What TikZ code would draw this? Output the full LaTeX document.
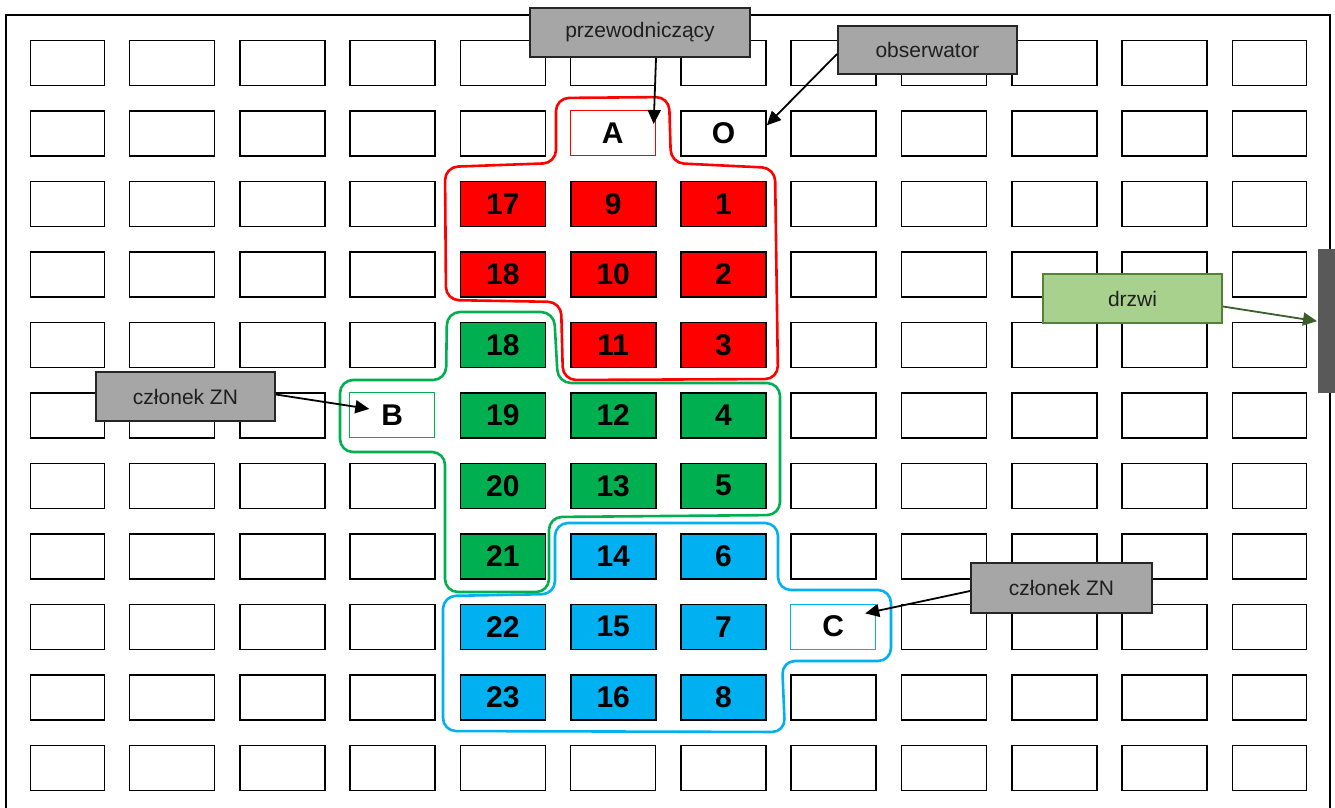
\documentclass[tikz,border=0pt]{standalone}
\usepackage{fontspec}
\setmainfont{Liberation Sans}
\usetikzlibrary{arrows.meta}
\definecolor{cred}{HTML}{FF0000}
\definecolor{cgreen}{HTML}{00B050}
\definecolor{cblue}{HTML}{00B0F0}
\definecolor{lblgray}{HTML}{A6A6A6}
\definecolor{lblline}{HTML}{262626}
\definecolor{drzwifill}{HTML}{A9D18E}
\definecolor{drzwiline}{HTML}{548235}
\definecolor{drzwiarrow}{HTML}{3B5E2B}
\definecolor{doorgray}{HTML}{595959}
\begin{document}
\begin{tikzpicture}[x=1pt,y=-1pt,
  seat/.style={draw=black,line width=1.6pt,minimum width=85pt,minimum height=45pt,inner sep=0pt,anchor=north west,font=\bfseries\fontsize{30}{30}\selectfont},
  mark seat/.style={draw=#1,line width=0.8pt,minimum width=85pt,minimum height=45pt,inner sep=0pt,anchor=north west,font=\bfseries\fontsize{30}{30}\selectfont},
  lbl/.style={draw=lblline,line width=2pt,fill=lblgray,minimum width=179pt,minimum height=48pt,inner sep=0pt,anchor=north west,text=black!88,font=\fontsize{21}{21}\selectfont},
  loopline/.style={line width=2.6pt,rounded corners=13pt},
  pointer/.style={line width=1.8pt,-{Triangle[length=14pt,width=13pt]}}]
\useasboundingbox (0,0) rectangle (1335,807);
\clip (0,0) rectangle (1335,807);
% room frame
\draw[line width=1.5pt] (6,830) -- (6,15) -- (1330,15) -- (1330,830);
% plain seats
\foreach \r in {1,...,11}{
 \foreach \c in {1,...,12}{
  \pgfmathtruncatemacro\sp{(\c>=5)*(\c<=7)*(\r>=3)*(\r<=10)+(\r==2)*(\c>=6)*(\c<=7)+(\r==6)*(\c==4)+(\r==9)*(\c==8)}
  \ifnum\sp=0
    \pgfmathsetmacro\yy{39.5+70.5*(\r-1)}
    \ifnum\c=1
      \node[seat,minimum width=74pt] (s-\r-\c) at (29.8,\yy) {};
    \else\ifnum\c=12
      \node[seat,minimum width=74pt] (s-\r-\c) at (1231.6,\yy) {};
    \else
      \pgfmathsetmacro\xx{128.8+110.27*(\c-2)}
      \node[seat] (s-\r-\c) at (\xx,\yy) {};
    \fi\fi
  \fi
 }}
% special seats
\node[mark seat=cred] (A) at (569.9,110) {A};
\node[seat] (O) at (680.2,110) {O};
\node[mark seat=cgreen] (B) at (349.3,392) {B};
\node[mark seat=cblue] (C) at (790.4,603.5) {C};
% red group
\node[seat,fill=cred] (r17) at (459.6,180.5) {17};
\node[seat,fill=cred] (r9)  at (569.9,180.5) {9};
\node[seat,fill=cred] (r1)  at (680.2,180.5) {1};
\node[seat,fill=cred] (r18) at (459.6,251) {18};
\node[seat,fill=cred] (r10) at (569.9,251) {10};
\node[seat,fill=cred] (r2)  at (680.2,251) {2};
\node[seat,fill=cred] (r11) at (569.9,321.5) {11};
\node[seat,fill=cred] (r3)  at (680.2,321.5) {3};
% green group
\node[seat,fill=cgreen] (g18) at (459.6,321.5) {18};
\node[seat,fill=cgreen] (g19) at (459.6,392) {19};
\node[seat,fill=cgreen] (g12) at (569.9,392) {12};
\node[seat,fill=cgreen] (g4)  at (680.2,392) {4};
\node[seat,fill=cgreen] (g20) at (459.6,462.5) {20};
\node[seat,fill=cgreen] (g13) at (569.9,462.5) {13};
\node[seat,fill=cgreen] (g5)  at (680.2,462.5) {5};
\node[seat,fill=cgreen] (g21) at (459.6,533) {21};
% blue group
\node[seat,fill=cblue] (b14) at (569.9,533) {14};
\node[seat,fill=cblue] (b6)  at (680.2,533) {6};
\node[seat,fill=cblue] (b22) at (459.6,603.5) {22};
\node[seat,fill=cblue] (b15) at (569.9,603.5) {15};
\node[seat,fill=cblue] (b7)  at (680.2,603.5) {7};
\node[seat,fill=cblue] (b23) at (459.6,674) {23};
\node[seat,fill=cblue] (b16) at (569.9,674) {16};
\node[seat,fill=cblue] (b8)  at (680.2,674) {8};
% group outlines
\draw[loopline,draw=cred] (556,98) -- (669,97) -- (671,163) -- (775,168) -- (778,379) -- (563,380) -- (561,302) -- (446,300) -- (445,167) -- (556,163) -- cycle;
\draw[loopline,draw=cgreen] (447,312) -- (554,312) -- (558,383) -- (780,383) -- (780,515) -- (549,517) -- (549,592) -- (445,592) -- (445,452) -- (340,452) -- (340,380) -- (446,380) -- cycle;
\draw[loopline,draw=cblue] (555,523) -- (778,523) -- (778,590) -- (891,590) -- (891,661) -- (782,661) -- (785,732) -- (443,731) -- (443,596) -- (555,594) -- cycle;
% door
\node[fill=doorgray,minimum width=22pt,minimum height=144pt,inner sep=0pt,anchor=north west] (door) at (1318,249) {};
% labels
\node[lbl,minimum width=220pt,minimum height=49pt] (przew) at (529,7) {przewodniczący};
\node[lbl] (obs) at (837,25) {obserwator};
\node[lbl,minimum height=49pt] (znB) at (95,371) {członek ZN};
\node[lbl,minimum width=181pt,minimum height=50pt] (znC) at (970,562) {członek ZN};
\node[lbl,draw=drzwiline,fill=drzwifill,minimum height=49pt] (drzwi) at (1042,273) {drzwi};
% pointers
\draw[pointer] ([xshift=16pt]przew.south) -- ([xshift=-2pt,yshift=-14pt]A.north east);
\draw[pointer] ([yshift=-4pt]obs.west) -- ([yshift=8pt]O.east);
\draw[pointer] ([yshift=2pt]znB.east) -- ([xshift=20pt,yshift=6pt]B.west);
\draw[pointer] ([yshift=-3pt]znC.west) -- ([xshift=-11pt,yshift=13pt]C.east);
\draw[pointer,draw=drzwiarrow,fill=drzwiarrow] ([yshift=-8pt]drzwi.east) -- ([xshift=-1pt]door.west);
\end{tikzpicture}
\end{document}
